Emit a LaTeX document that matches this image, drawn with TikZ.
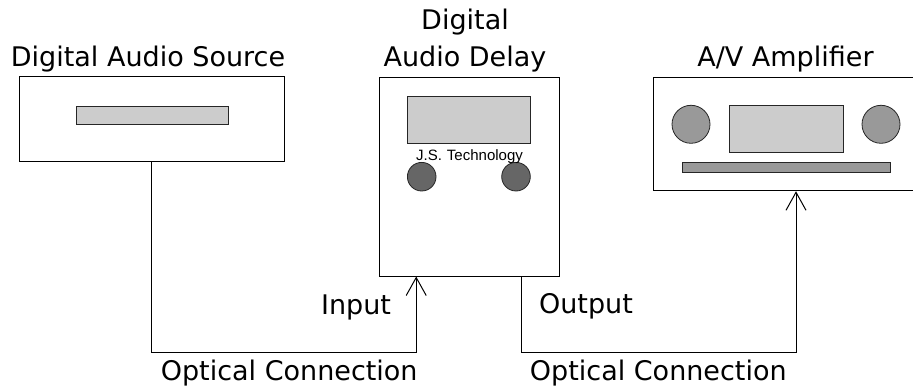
\documentclass[tikz,border=0pt]{standalone}
\usepackage{fontspec}
\usetikzlibrary{arrows.meta}
\newfontfamily\labelfont{DejaVu Sans}
\newfontfamily\brandfont{Liberation Sans}
\definecolor{panelgray}{HTML}{CCCCCC}
\definecolor{knobgray}{HTML}{666666}
\definecolor{ampgray}{HTML}{999999}
\tikzset{
  device/.style={draw=black, line width=1pt, fill=white, inner sep=0pt},
  part/.style={draw=black!85, line width=0.8pt},
  caption/.style={font=\labelfont\fontsize{27}{37}\selectfont, inner sep=0pt, anchor=base, align=center},
  link/.style={draw=black, line width=1pt},
  feed/.style={link, -{Straight Barb[length=18pt,width=20pt,line width=1pt]}},
}
\begin{document}
\begin{tikzpicture}[x=1pt,y=-1pt]
  \clip (0,0) rectangle (913,390);
  \fill[white] (0,0) rectangle (913,390);

  % devices
  \node[device, minimum width=265pt, minimum height=85pt] (src) at (151.5,119.5) {};
  \node[device, minimum width=180pt, minimum height=198pt] (dly) at (469,177) {};
  \node[device, minimum width=266pt, minimum height=113.5pt] (amp) at (786,134) {};

  % source front panel
  \draw[part, fill=panelgray] (76,106) rectangle (228,124);

  % delay front panel
  \draw[part, fill=panelgray] (407.3,96.7) rectangle (530.3,143.3);
  \draw[part, fill=knobgray] (421.7,176.7) circle (14.3);
  \draw[part, fill=knobgray] (516,176.7) circle (14.3);
  \node[font=\brandfont\fontsize{15}{17}\selectfont, inner sep=0pt, anchor=base] (brand) at (469.5,161) {J.S.\hspace{5pt}Technology};

  % amplifier front panel
  \draw[part, fill=ampgray] (691,124.3) circle (19);
  \draw[part, fill=ampgray] (881,124.3) circle (19);
  \draw[part, fill=panelgray] (729.3,105.7) rectangle (843.3,152.7);
  \draw[part, fill=ampgray] (682,162.7) rectangle (890.7,172);

  % titles (a multi-line node sits on the baseline of its last line)
  \node[caption] (srctitle) at (148,66.7) {Digital Audio Source};
  \node[caption] (dlytitle) at (465,66.5) {Digital\\Audio Delay};
  \node[caption] (amptitle) at (785.5,66.7) {A/V Amplifier};

  % optical links
  \coordinate (rail) at (0,352);
  \coordinate (inport) at ([xshift=37.7pt]dly.south west);
  \coordinate (outport) at ([xshift=-38pt]dly.south east);
  \coordinate (ampin) at ([xshift=10pt]amp.south);
  \draw[feed] (src.south) |- (inport |- rail) -- (inport);
  \draw[feed] (outport) |- (ampin |- rail) -- (ampin);

  % link labels
  \node[caption] (inlabel) at (356,314) {Input};
  \node[caption] (outlabel) at (586,313.3) {Output};
  \node[caption] (leftlink) at (289.2,380) {Optical Connection};
  \node[caption] (rightlink) at (658.3,380) {Optical Connection};
\end{tikzpicture}
\end{document}
